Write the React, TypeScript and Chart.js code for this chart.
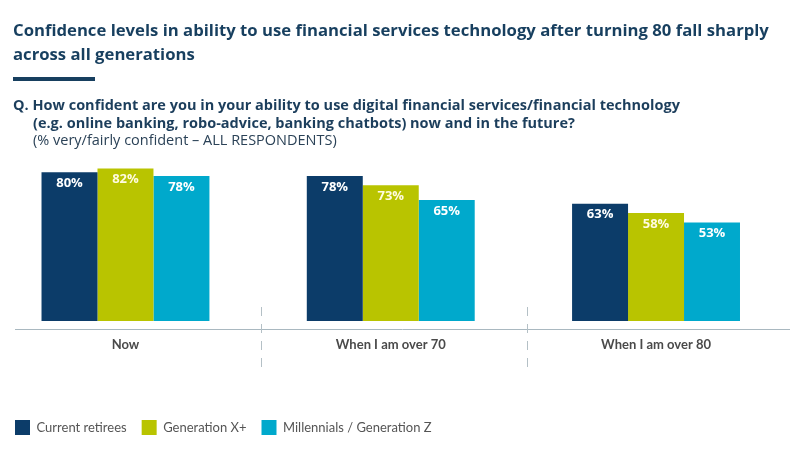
import React, { useEffect, useRef } from "react";
import { Chart, registerables } from "chart.js";

Chart.register(...registerables);

const categories = ["Now", "When I am over 70", "When I am over 80"];
const seriesNames = ["Current retirees", "Generation X+", "Millennials / Generation Z"];
const retirees = [80, 78, 63];
const genX = [82, 73, 58];
const millennials = [78, 65, 53];
const separators = [0.51, 1.515];

const seriesColors = ["#0c3c69", "#b9c400", "#00a9cc"];
const labelColors = ["#ffffff", "#fffbe0", "#ffffff"];
const FONT = "'Open Sans', 'Noto Sans', sans-serif";
const FONT2 = "Lato, 'Open Sans', sans-serif";

const overlayPlugin = {
  id: "overlay",
  afterDatasetsDraw(chart: any) {
    const ctx = chart.ctx;
    const area = chart.chartArea;
    const xs = chart.scales.x;
    ctx.save();
    ctx.strokeStyle = "#a9b8c0";
    ctx.lineWidth = 1;
    ctx.beginPath();
    ctx.moveTo(15, Math.round(area.bottom) + 0.5);
    ctx.lineTo(area.right, Math.round(area.bottom) + 0.5);
    ctx.stroke();
    ctx.strokeStyle = "#b4c0c6";
    ctx.setLineDash([9, 8]);
    separators.forEach((v) => {
      const px = Math.round(xs.getPixelForValue(v)) + 0.5;
      ctx.beginPath();
      ctx.moveTo(px, area.bottom - 22);
      ctx.lineTo(px, area.bottom + 42);
      ctx.stroke();
    });
    ctx.setLineDash([]);
    ctx.font = `bold 13px ${FONT}`;
    ctx.textAlign = "center";
    ctx.textBaseline = "middle";
    chart.data.datasets.forEach((ds: any, di: number) => {
      const meta = chart.getDatasetMeta(di);
      ctx.fillStyle = labelColors[di];
      meta.data.forEach((el: any, i: number) => {
        const v = ds.data[i].y;
        ctx.fillText(`${v}%`, el.x, el.y + 11);
      });
    });
    ctx.restore();
  },
};

function BarChart() {
  const ref = useRef<HTMLCanvasElement | null>(null);
  useEffect(() => {
    if (!ref.current) return;
    const values = [retirees, genX, millennials];
    const chart = new Chart(ref.current, {
      type: "bar",
      data: {
        datasets: seriesNames.map((name, s) => ({
          label: name,
          data: categories.map((_, i) => ({ x: i, y: values[s][i] })),
          backgroundColor: seriesColors[s],
          borderWidth: 0,
          categoryPercentage: 0.633,
          barPercentage: 1,
        })),
      },
      options: {
        animation: false,
        responsive: true,
        maintainAspectRatio: false,
        layout: { padding: { top: 140, left: 0, right: 10, bottom: 11 } },
        scales: {
          x: {
            type: "linear",
            offset: false,
            min: -0.473,
            max: 2.505,
            grid: { display: false, drawTicks: false, offset: false },
            border: { display: false },
            afterBuildTicks: (scale: any) => {
              scale.ticks = categories.map((_, i) => ({ value: i }));
            },
            afterFit: (scale: any) => {
              scale.height = 76;
            },
            ticks: {
              padding: 8,
              color: "#4a4a4a",
              font: { family: FONT2, size: 13, weight: "bold" },
              callback: (v: any) => categories[v as number] ?? "",
            },
          },
          y: {
            display: false,
            min: -4.32,
            max: 97.3,
          },
        },
        plugins: {
          tooltip: { enabled: false },
          legend: {
            position: "bottom",
            align: "start",
            onClick: () => {},
            labels: {
              boxWidth: 15,
              boxHeight: 15,
              padding: 15,
              color: "#555555",
              font: { family: FONT2, size: 13 },
            },
          },
        },
      },
      plugins: [overlayPlugin],
    } as any);
    return () => chart.destroy();
  }, []);
  return <canvas ref={ref} />;
}

export default function App() {
  return (
    <div
      style={{
        position: "fixed",
        left: 0,
        top: 0,
        width: 800,
        height: 456,
        background: "#ffffff",
        overflow: "hidden",
      }}
    >
      <div style={{ position: "absolute", left: 0, top: 0, width: 800, height: 456 }}>
        <BarChart />
      </div>
      <div
        style={{
          position: "absolute",
          left: 13,
          top: 18,
          whiteSpace: "nowrap",
          fontFamily: FONT,
          fontWeight: 700,
          fontSize: 16.7,
          lineHeight: "23.5px",
          color: "#173f5f",
        }}
      >
        Confidence levels in ability to use financial services technology after turning 80 fall sharply
        <br />
        across all generations
      </div>
      <div
        style={{
          position: "absolute",
          left: 13,
          top: 77,
          width: 82,
          height: 4,
          background: "#173f5f",
        }}
      />
      <div
        style={{
          position: "absolute",
          left: 13,
          top: 96,
          whiteSpace: "nowrap",
          fontFamily: FONT,
          fontSize: 14.5,
          lineHeight: "17.5px",
          color: "#1c3e5c",
        }}
      >
        <div style={{ fontWeight: 700 }}>
          Q. How confident are you in your ability to use digital financial services/financial technology
        </div>
        <div style={{ fontWeight: 700, paddingLeft: 20 }}>
          (e.g. online banking, robo-advice, banking chatbots) now and in the future?
        </div>
        <div style={{ paddingLeft: 20, color: "#2b4257" }}>(% very/fairly confident – ALL RESPONDENTS)</div>
      </div>
    </div>
  );
}
